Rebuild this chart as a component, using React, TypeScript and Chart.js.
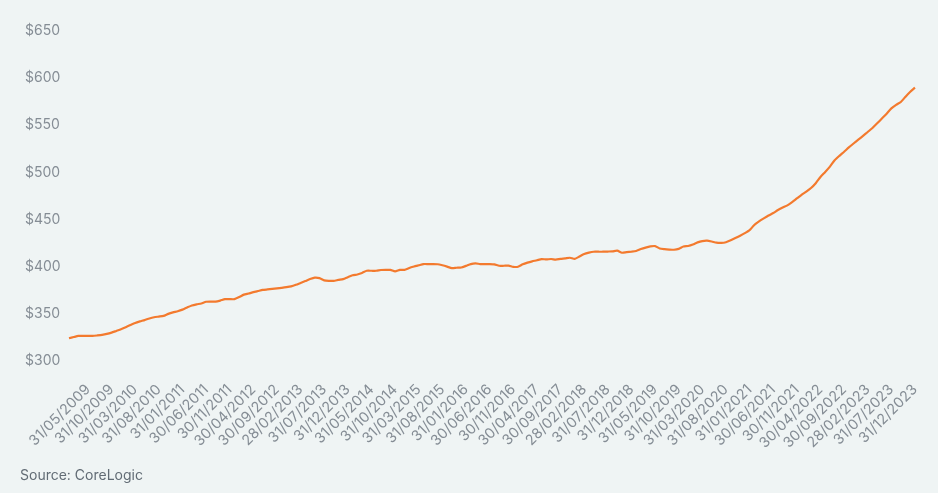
import React, { useEffect, useRef } from "react";
import { Chart, registerables } from "chart.js";

Chart.register(...registerables);

// Monthly series starts January 2009, ends December 2023
const START_YEAR = 2009;
const START_MONTH = 0; // January
const MONTH_COUNT = 180;

// Median weekly rent ($), monthly
const RENT_VALUES: number[] = [
  324.1, 325.4, 326.6, 326.6, 326.6, 326.6, 327.1, 327.7, 328.7, 330.1,
  331.9, 333.7, 335.9, 338.2, 340.4, 342.0, 343.4, 345.1, 346.4, 347.1,
  347.8, 350.0, 351.6, 352.8, 354.5, 356.8, 358.9, 360.1, 361.0, 362.8,
  363.0, 363.0, 364.1, 365.6, 365.6, 365.6, 367.8, 370.4, 371.6, 373.0,
  374.2, 375.4, 375.9, 376.4, 377.0, 377.6, 378.3, 379.2, 380.8, 382.8,
  384.8, 386.9, 388.4, 387.9, 385.5, 385.0, 385.0, 386.0, 386.8, 388.9,
  390.9, 391.8, 393.4, 395.7, 395.7, 395.7, 396.5, 396.7, 396.6, 395.1,
  396.6, 396.7, 398.7, 400.2, 401.5, 402.8, 402.8, 402.8, 402.6, 401.5,
  400.1, 398.5, 398.9, 399.2, 400.9, 402.8, 403.5, 402.8, 402.8, 402.8,
  402.5, 401.0, 401.0, 401.2, 399.9, 399.9, 402.5, 404.3, 405.7, 406.8,
  408.1, 407.7, 408.2, 407.5, 408.3, 408.8, 409.5, 408.3, 410.8, 413.4,
  414.9, 415.9, 415.9, 415.9, 416.1, 416.3, 417.0, 414.8, 415.5, 415.9,
  416.6, 418.7, 420.3, 421.5, 421.9, 419.3, 418.6, 418.2, 418.0, 418.9,
  421.5, 422.0, 423.5, 425.8, 427.2, 427.6, 426.7, 425.5, 425.3, 426.0,
  428.0, 430.4, 432.9, 435.6, 438.8, 444.3, 448.1, 451.3, 454.3, 456.9,
  460.1, 462.7, 465.1, 468.5, 472.4, 476.3, 479.7, 483.5, 488.6, 495.2,
  500.5, 506.2, 512.9, 517.6, 521.9, 526.5, 530.7, 534.7, 538.7, 542.9,
  547.1, 552.1, 557.2, 562.3, 567.9, 571.7, 574.7, 580.3, 585.5, 589.9,
];

// Month-end dates as categories (dd/mm/yyyy)
const pad = (n: number) => (n < 10 ? "0" + n : String(n));
const CATEGORIES: string[] = Array.from({ length: MONTH_COUNT }, (_, i) => {
  const y = START_YEAR + Math.floor((START_MONTH + i) / 12);
  const m = (START_MONTH + i) % 12;
  const d = new Date(y, m + 1, 0).getDate();
  return `${pad(d)}/${pad(m + 1)}/${y}`;
});

const LABEL_OFFSET = 4; // first labelled category: 31/05/2009
const LABEL_EVERY = 5;

const Y_MIN = 300;
const Y_MAX = 650;
const Y_STEP = 50;

const SOURCE_TEXT = "Source: CoreLogic";

const BG = "#eff4f4";
const LINE_COLOR = "#f37a2e";
const TICK_COLOR = "#858d95";
const FONT = "Inter, 'Open Sans', sans-serif";

export default function App() {
  const canvasRef = useRef<HTMLCanvasElement | null>(null);

  useEffect(() => {
    if (!canvasRef.current) return;
    const chart = new Chart(canvasRef.current, {
      type: "line",
      data: {
        labels: CATEGORIES,
        datasets: [
          {
            label: "Rent",
            data: RENT_VALUES,
            borderColor: LINE_COLOR,
            borderWidth: 2.2,
            pointRadius: 0,
            tension: 0.2,
            fill: false,
          },
        ],
      },
      options: {
        animation: false,
        responsive: false,
        maintainAspectRatio: false,
        layout: { padding: { left: 25, right: 23, top: 31, bottom: 40 } },
        plugins: {
          legend: { display: false },
          tooltip: { enabled: false },
        },
        scales: {
          x: {
            type: "category",
            grid: { display: false, drawTicks: false },
            border: { display: false },
            ticks: {
              autoSkip: false,
              minRotation: 45,
              maxRotation: 45,
              padding: 20,
              color: TICK_COLOR,
              font: { family: FONT, size: 14.5 },
              callback: (_v: any, i: number) =>
                i >= LABEL_OFFSET && (i - LABEL_OFFSET) % LABEL_EVERY === 0
                  ? CATEGORIES[i]
                  : "",
            },
            afterFit: (scale: any) => {
              scale.height = 92;
              scale.paddingLeft = 0;
              scale.paddingRight = 0;
            },
          },
          y: {
            min: Y_MIN,
            max: Y_MAX,
            grid: { display: false, drawTicks: false },
            border: { display: false },
            ticks: {
              stepSize: Y_STEP,
              crossAlign: "far",
              color: TICK_COLOR,
              font: { family: FONT, size: 14 },
              callback: (v: any) => "$" + v,
            },
            afterFit: (scale: any) => {
              scale.width = 44;
            },
          },
        },
      },
    });
    return () => chart.destroy();
  }, []);

  return (
    <div
      style={{
        position: "fixed",
        left: 0,
        top: 0,
        width: 938,
        height: 493,
        background: BG,
        overflow: "hidden",
      }}
    >
      <canvas ref={canvasRef} width={938} height={493} style={{ display: "block" }} />
      <div
        style={{
          position: "absolute",
          left: 20,
          top: 466,
          fontFamily: FONT,
          fontSize: 14,
          color: "#626c75",
          whiteSpace: "nowrap",
        }}
      >
        {SOURCE_TEXT}
      </div>
    </div>
  );
}
